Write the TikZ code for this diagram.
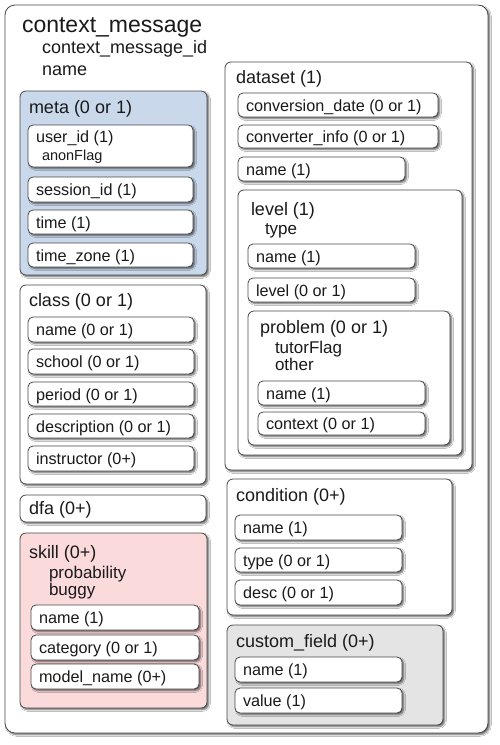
\documentclass[tikz,border=0pt]{standalone}
\usepackage{fontspec}
\setmainfont{Liberation Sans}
\usetikzlibrary{shadows,shadows.blur}
\definecolor{bordergray}{HTML}{484848}
\definecolor{textgray}{HTML}{1A1A1A}
\definecolor{metablue}{HTML}{C9D9EB}
\definecolor{skillpink}{HTML}{FBDADB}
\definecolor{customgray}{HTML}{E4E4E4}
\tikzset{
  box/.style={draw=bordergray, line width=0.8pt, rounded corners=6pt, fill=white,
    blur shadow={shadow xshift=1.7pt, shadow yshift=-1.7pt, shadow blur radius=1.6pt, shadow blur steps=6, shadow opacity=60},
    inner sep=0pt, outer sep=0pt, anchor=north west},
  fld/.style={box, rounded corners=5pt},
  outerbox/.style={box, rounded corners=10pt},
  txt/.style={anchor=base west, inner sep=0pt, outer sep=0pt, text=textgray, font=\fontsize{16.2}{19}\selectfont},
  hdr/.style={txt, font=\fontsize{18}{21}\selectfont},
  attr/.style={txt, font=\fontsize{17}{20}\selectfont},
  bigattr/.style={txt, font=\fontsize{18}{21}\selectfont},
  small/.style={txt, font=\fontsize{14.5}{17}\selectfont},
  ttl/.style={txt, font=\fontsize{23}{27}\selectfont},
}
% box: style, name, x1, y1, x2, y2
\newcommand\bx[6]{\node[#1, minimum width={(#5)-(#3)}, minimum height={(#6)-(#4)}] (#2) at (#3,#4) {};}
% field: name, x1, y1, x2, y2, text
\newcommand\fl[6]{\bx{fld}{#1}{#2}{#3}{#4}{#5}\node[txt] (#1t) at ([xshift=8pt,yshift=-6pt]#1.west) {#6};}
\begin{document}
\begin{tikzpicture}[x=1pt,y=-1pt]
\useasboundingbox (0,0) rectangle (500,745);
\fill[white] (0,0) rectangle (500,745);
% outer
\bx{outerbox}{cm}{5}{5}{488}{733}
\node[ttl] (cmt) at (22,32) {context\_message};
\node[bigattr] (cma) at (42,53) {context\_message\_id};
\node[bigattr] (cmb) at (42,75) {name};
% meta
\bx{box,fill=metablue}{meta}{20}{91}{207}{275}
\node[hdr] (metat) at (29,113) {meta (0 or 1)};
\bx{fld}{uid}{28}{125}{193}{167}
\node[txt] (uidt) at (36,142) {user\_id (1)};
\node[small] (uida) at (42,160) {anonFlag};
\fl{sess}{28}{177}{193}{202}{session\_id (1)}
\fl{time}{28}{210}{193}{234}{time (1)}
\fl{tz}{28}{243}{193}{267}{time\_zone (1)}
% class
\bx{box}{class}{20}{285}{206}{484}
\node[hdr] (classt) at (29,306) {class (0 or 1)};
\fl{cname}{28}{317}{194}{342}{name (0 or 1)}
\fl{school}{28}{349}{194}{374}{school (0 or 1)}
\fl{period}{28}{382}{194}{406}{period (0 or 1)}
\fl{desc}{28}{414}{194}{438}{description (0 or 1)}
\fl{instr}{28}{446}{194}{471}{instructor (0+)}
% dfa
\bx{box}{dfa}{20}{495}{206}{522}
\node[hdr] (dfat) at (29,514) {dfa (0+)};
% skill
\bx{box,fill=skillpink}{skill}{20}{533}{207}{708}
\node[hdr] (skillt) at (29,558) {skill (0+)};
\node[attr] (skilla) at (49,578) {probability};
\node[attr] (skillb) at (49,595) {buggy};
\fl{sname}{31}{605}{199}{630}{name (1)}
\fl{scat}{31}{635}{199}{660}{category (0 or 1)}
\fl{smod}{31}{664}{199}{689}{model\_name (0+)}
% dataset
\bx{box}{ds}{225}{62}{472}{470}
\node[hdr] (dst) at (236,83) {dataset (1)};
\fl{convd}{238}{93}{438}{117}{conversion\_date (0 or 1)}
\fl{convi}{238}{125}{438}{148}{converter\_info (0 or 1)}
\fl{dname}{238}{157}{405}{181}{name (1)}
% level
\bx{box}{lvl}{238}{190}{462}{455}
\node[hdr] (lvlt) at (251,215) {level (1)};
\node[attr] (lvla) at (265,234) {type};
\fl{lname}{248}{244}{415}{268}{name (1)}
\fl{llvl}{248}{278}{415}{302}{level (0 or 1)}
% problem
\bx{box}{prob}{248}{311}{450}{445}
\node[hdr] (probt) at (260,333) {problem (0 or 1)};
\node[attr] (proba) at (275,353) {tutorFlag};
\node[attr] (probb) at (275,370) {other};
\fl{pname}{258}{381}{425}{405}{name (1)}
\fl{pctx}{258}{412}{425}{435}{context (0 or 1)}
% condition
\bx{box}{cond}{227}{479}{452}{615}
\node[hdr] (condt) at (236,501) {condition (0+)};
\fl{cdname}{235}{515}{402}{540}{name (1)}
\fl{cdtype}{235}{548}{402}{572}{type (0 or 1)}
\fl{cddesc}{235}{580}{402}{605}{desc (0 or 1)}
% custom_field
\bx{box,fill=customgray}{cf}{227}{625}{443}{725}
\node[hdr] (cft) at (236,647) {custom\_field (0+)};
\fl{cfname}{235}{657}{402}{682}{name (1)}
\fl{cfval}{235}{688}{402}{713}{value (1)}
\end{tikzpicture}
\end{document}
